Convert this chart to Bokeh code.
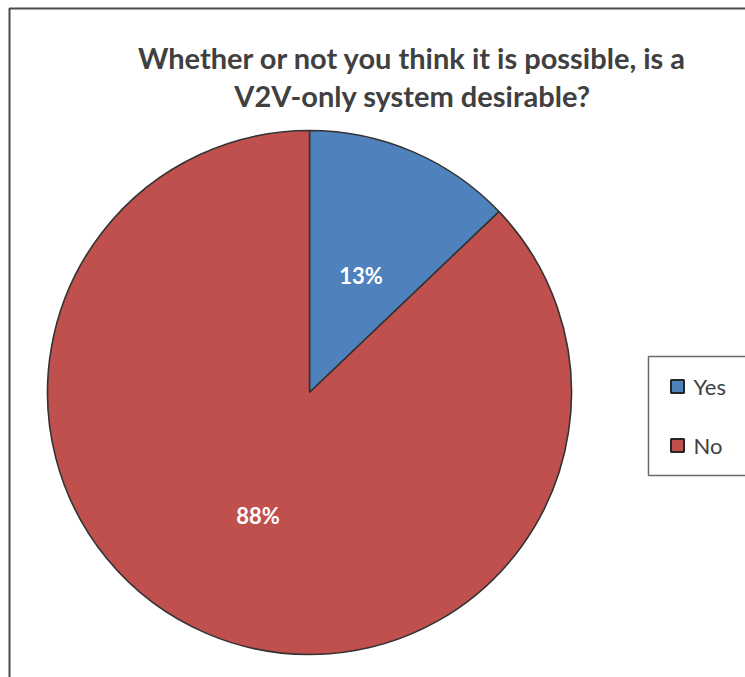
import math
from bokeh.plotting import figure
from bokeh.models import Range1d, ColumnDataSource
from bokeh.core.properties import value
from bokeh.embed import file_html
from bokeh.resources import INLINE

# Survey answers
categories = ["Yes", "No"]
shares = [13, 88]
slice_colors = ["#4F81BD", "#C0504D"]
title_lines = ["Whether or not you think it is possible, is a",
               "V2V-only system desirable?"]

W, H = 745, 677
p = figure(width=W, height=H, output_backend="svg", toolbar_location=None,
           x_range=Range1d(0, W), y_range=Range1d(0, H),
           min_border=0, outline_line_color=None)
p.axis.visible = False
p.grid.visible = False
p.background_fill_color = "white"
p.border_fill_color = "white"

# Chart area frame (runs off the right and bottom edges)
p.line(x=[9, 9, W + 20], y=[-20, H - 8, H - 8], line_color="#4a4a4a", line_width=2)

# Pie
cx, cy, r = 309, H - 392, 262
total = sum(shares)
starts, ends, mids = [], [], []
a = math.pi / 2
for v in shares:
    span = 2 * math.pi * v / total
    starts.append(a)
    ends.append(a - span)
    mids.append(a - span / 2)
    a -= span

src = ColumnDataSource(dict(start=starts, end=ends, color=slice_colors,
                            label=[f"{v}%" for v in shares],
                            lx=[cx + 0.5 * r * math.cos(m) for m in mids],
                            ly=[cy + 0.5 * r * math.sin(m) - 3 for m in mids]))
p.wedge(x=cx, y=cy, radius=r, start_angle="start", end_angle="end",
        direction="clock", fill_color="color", line_color="#333333",
        line_width=1.6, source=src)
p.text(x="lx", y="ly", text="label", source=src, text_color="white",
       text_font=value("Lato"), text_font_style="bold", text_font_size="22px",
       text_align="center", text_baseline="middle")

# Title
p.text(x=[412, 412], y=[H - 57, H - 95], text=title_lines, text_color="#404040",
       text_font=value("Lato"), text_font_style="bold", text_font_size="29px",
       text_align="center", text_baseline="middle")

# Legend
p.quad(left=648, right=W + 20, bottom=H - 475, top=H - 356,
       fill_color="white", line_color="#6a6a6a", line_width=1.5)
leg_y = [H - 386, H - 445]
leg = ColumnDataSource(dict(y=leg_y, color=slice_colors, name=categories))
p.rect(x=677, y="y", width=13, height=13, fill_color="color",
       line_color="#262626", line_width=2, source=leg)
p.text(x=693, y="y", text="name", source=leg, text_color="#404040",
       text_font=value("Lato"), text_font_size="22px",
       text_align="left", text_baseline="middle")

open("out.html", "w").write(file_html(p, INLINE))
